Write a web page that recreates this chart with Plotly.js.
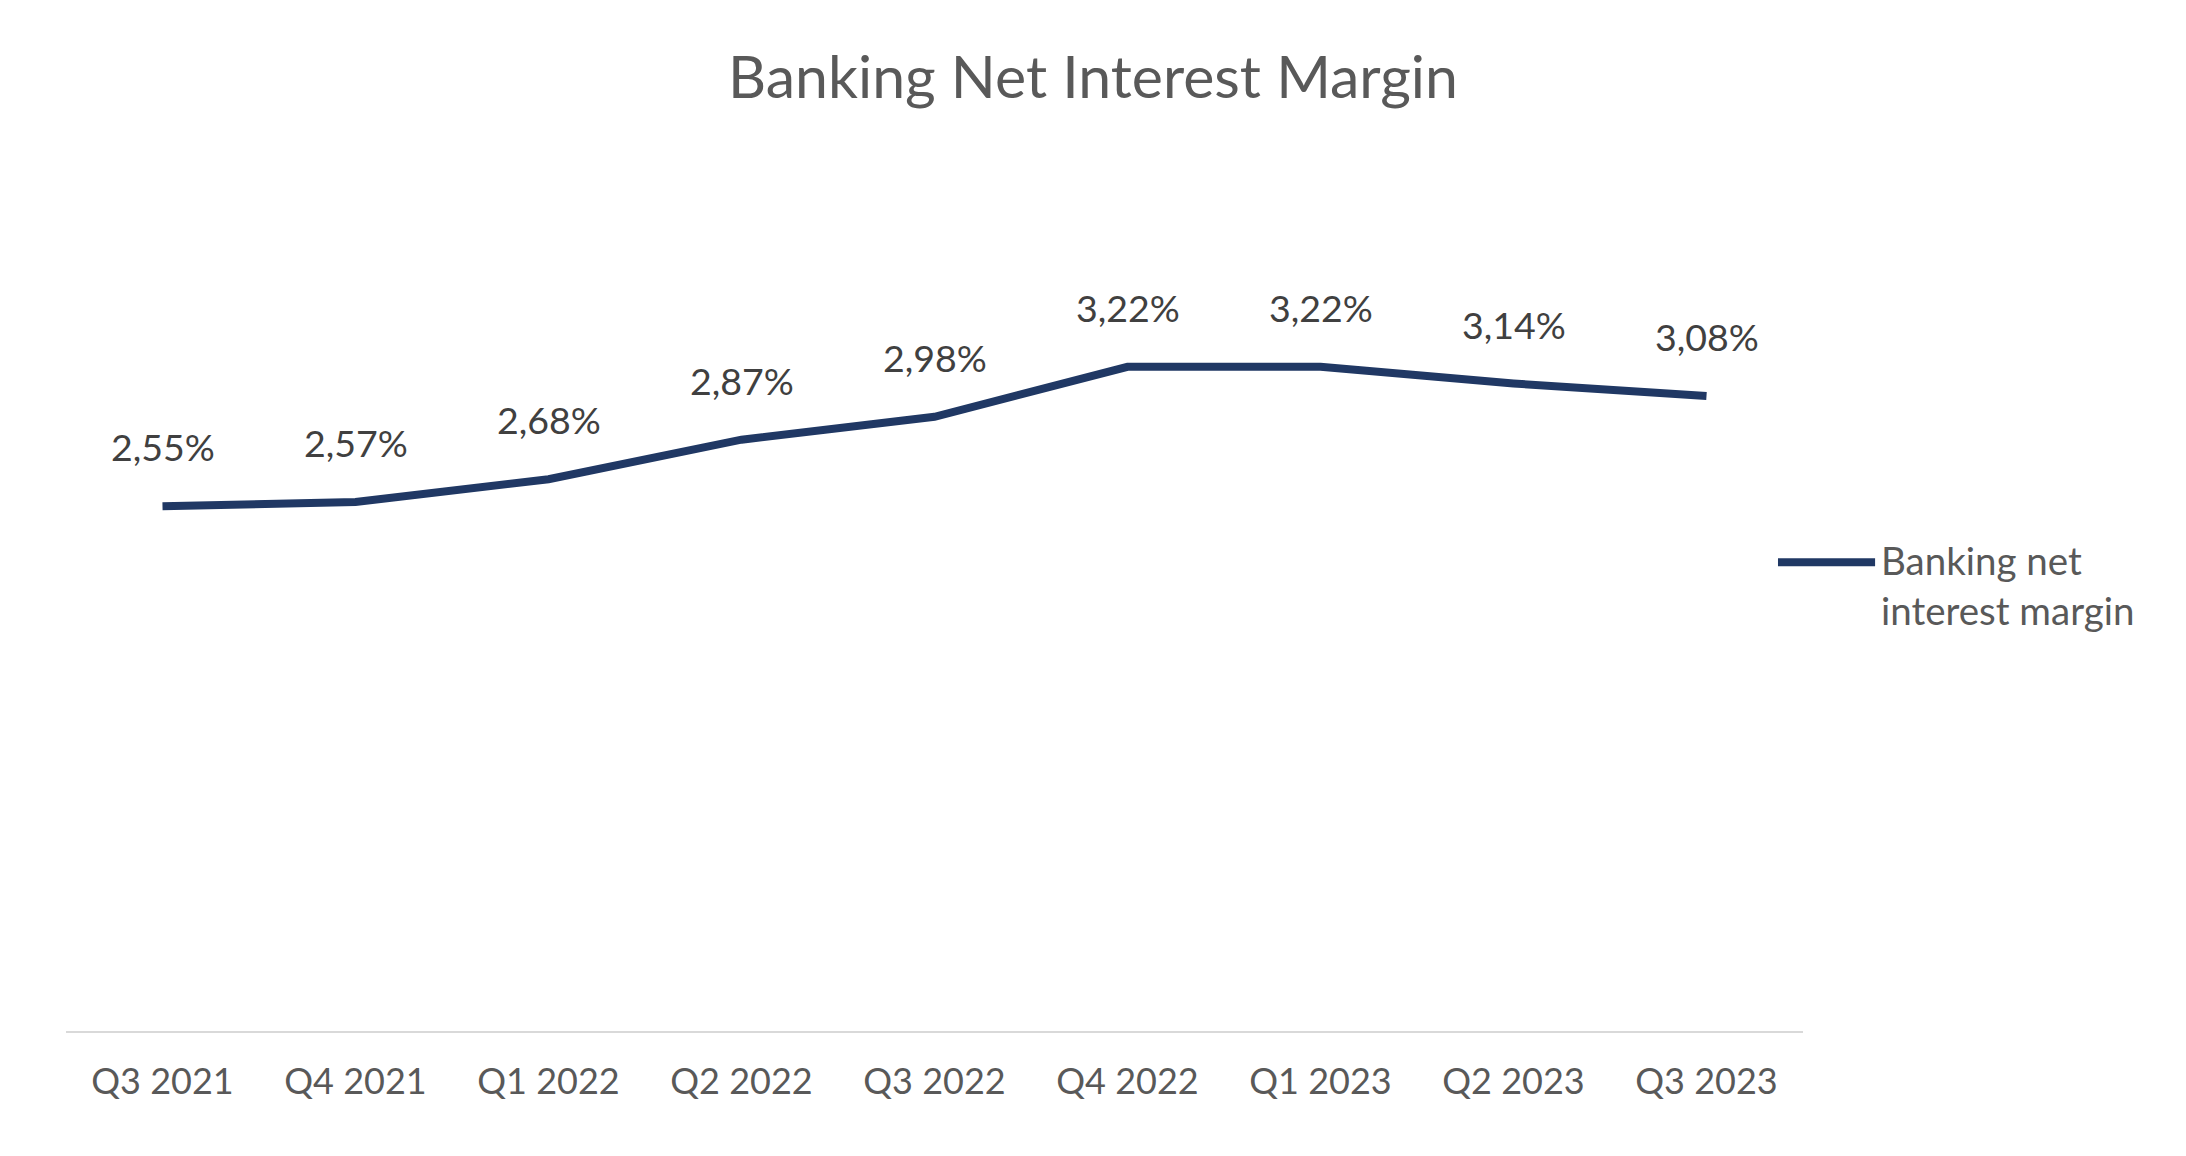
<!DOCTYPE html>
<html>
<head>
<meta charset="utf-8">
<script src="https://cdn.plot.ly/plotly-3.0.1.min.js"></script>
<style>html,body{margin:0;padding:0;background:#fff;}#chart{width:2186px;height:1156px;}</style>
</head>
<body>
<div id="chart"></div>
<script>
const categories = ["Q3 2021","Q4 2021","Q1 2022","Q2 2022","Q3 2022","Q4 2022","Q1 2023","Q2 2023","Q3 2023"];
const nimValues = [2.55, 2.57, 2.68, 2.87, 2.98, 3.22, 3.22, 3.14, 3.08];
const seriesName = "Banking net interest margin";
const labelTexts = nimValues.map(v => v.toFixed(2).replace('.', ',') + '%');

const FONT = 'Lato, "Open Sans", sans-serif';
const lineColor = '#203864';

const trace = {
  x: categories,
  y: nimValues,
  type: 'scatter',
  mode: 'lines',
  name: seriesName,
  line: {color: lineColor, width: 8},
  hoverinfo: 'skip',
  showlegend: false
};

const annotations = categories.map((c, i) => ({
  x: c, y: nimValues[i], xref: 'x', yref: 'y',
  text: labelTexts[i], showarrow: false,
  yanchor: 'bottom', yshift: 35,
  font: {family: FONT, size: 37.5, color: '#404040'}
}));

annotations.push({
  xref: 'paper', yref: 'paper', x: 1.044, y: 0.612,
  xanchor: 'left', yanchor: 'middle', align: 'left',
  text: 'Banking net<br>interest margin', showarrow: false,
  font: {family: FONT, size: 38.5, color: '#595959'}
});

const layout = {
  width: 2186, height: 1156,
  paper_bgcolor: '#ffffff', plot_bgcolor: '#ffffff',
  margin: {l: 66, r: 383, t: 303, b: 125},
  title: {
    text: 'Banking Net Interest Margin',
    xref: 'container', x: 0.5, xanchor: 'center',
    yref: 'container', y: 1 - 77/1156, yanchor: 'middle',
    font: {family: FONT, size: 59, color: '#595959'}
  },
  xaxis: {
    type: 'category',
    range: [-0.5, 8.5],
    showgrid: false, zeroline: false,
    showline: true, linecolor: '#d9d9d9', linewidth: 2,
    ticks: '', ticklabelstandoff: 18,
    tickfont: {family: FONT, size: 36, color: '#595959'},
    fixedrange: true
  },
  yaxis: {
    range: [0.027, 3.527],
    visible: false, showgrid: false, zeroline: false,
    fixedrange: true
  },
  showlegend: false,
  annotations: annotations,
  shapes: [{
    type: 'line', xref: 'paper', yref: 'paper',
    x0: 0.9856, x1: 1.0415, y0: 0.644, y1: 0.644,
    line: {color: lineColor, width: 8}
  }]
};

Plotly.newPlot('chart', [trace], layout, {displayModeBar: false, staticPlot: true});
</script>
</body>
</html>
